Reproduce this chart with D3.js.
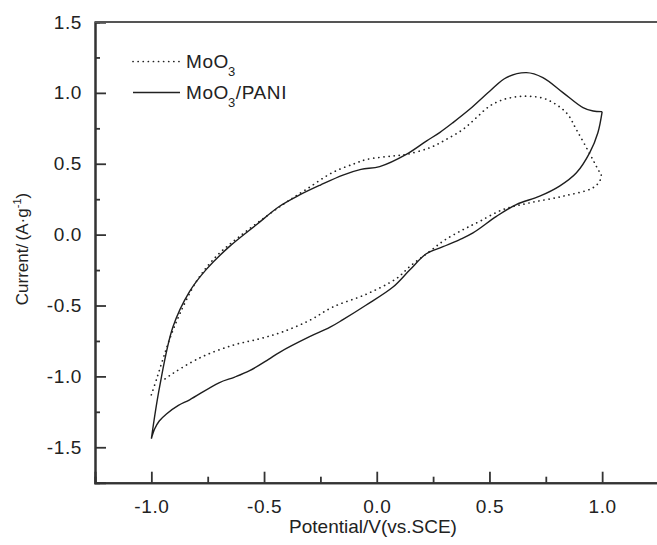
<!DOCTYPE html>
<html>
<head>
<meta charset="utf-8">
<script src="https://cdn.jsdelivr.net/npm/d3@7"></script>
<style>
  html, body { margin: 0; padding: 0; background: #fff; }
  svg { display: block; }
  text { font-family: "Liberation Sans", Arial, Helvetica, sans-serif; fill: #222; }
</style>
</head>
<body>
<svg id="chart" width="657" height="545"></svg>
<script>
// ---- Data ----
const xTicks = [-1.0, -0.5, 0.0, 0.5, 1.0];
const xMinorTicks = [-0.75, -0.25, 0.25, 0.75];
const yTicks = [1.5, 1.0, 0.5, 0.0, -0.5, -1.0, -1.5];
const yMinorTicks = [1.25, 0.75, 0.25, -0.25, -0.75, -1.25];

// MoO3/PANI (solid): anodic (upper) and cathodic (lower) branches
const paniUpperX = [-1.000, -0.963, -0.904, -0.830, -0.756, -0.653, -0.534, -0.431, -0.342, -0.250, -0.150, -0.070, 0.013, 0.131, 0.220, 0.279, 0.338, 0.412, 0.501, 0.575, 0.664, 0.737, 0.826, 0.915, 0.960, 1.000];
const paniUpperY = [-1.44, -1.07, -0.65, -0.40, -0.245, -0.083, 0.07, 0.20, 0.28, 0.35, 0.42, 0.46, 0.48, 0.566, 0.66, 0.72, 0.79, 0.884, 1.012, 1.108, 1.143, 1.108, 1.002, 0.896, 0.872, 0.868];
const paniLowerX = [1.000, 0.981, 0.945, 0.886, 0.811, 0.723, 0.619, 0.531, 0.427, 0.368, 0.294, 0.220, 0.146, 0.072, -0.050, -0.150, -0.209, -0.298, -0.431, -0.480, -0.564, -0.630, -0.700, -0.830, -0.880, -0.933, -0.965, -0.985, -1.000];
const paniLowerY = [0.868, 0.719, 0.578, 0.436, 0.342, 0.271, 0.212, 0.129, 0.012, -0.035, -0.085, -0.135, -0.25, -0.37, -0.50, -0.60, -0.655, -0.72, -0.83, -0.88, -0.96, -1.005, -1.045, -1.165, -1.205, -1.265, -1.315, -1.37, -1.44];

// MoO3 (dotted)
const mooUpperX = [-1.000, -0.975, -0.945, -0.915, -0.874, -0.800, -0.712, -0.608, -0.490, -0.400, -0.312, -0.194, -0.100, -0.046, 0.072, 0.131, 0.235, 0.309, 0.383, 0.442, 0.501, 0.560, 0.619, 0.678, 0.752, 0.841, 0.886, 0.945, 0.975, 0.996];
const mooUpperY = [-1.13, -1.01, -0.86, -0.72, -0.56, -0.33, -0.153, -0.012, 0.129, 0.23, 0.32, 0.44, 0.50, 0.53, 0.555, 0.566, 0.613, 0.672, 0.743, 0.825, 0.907, 0.952, 0.972, 0.976, 0.955, 0.86, 0.74, 0.57, 0.48, 0.42];
const mooLowerX = [0.996, 0.990, 0.959, 0.826, 0.678, 0.560, 0.457, 0.383, 0.300, 0.235, 0.150, 0.087, -0.046, -0.194, -0.298, -0.416, -0.520, -0.638, -0.786, -0.933, -0.955];
const mooLowerY = [0.42, 0.38, 0.33, 0.271, 0.224, 0.177, 0.094, 0.035, -0.04, -0.118, -0.22, -0.31, -0.42, -0.51, -0.605, -0.685, -0.735, -0.78, -0.87, -1.01, -1.04];

const legendLabels = ["MoO", "MoO"];
const legendSubs = ["3", "3"];
const legendSuffix = ["", "/PANI"];

// ---- Layout ----
const svg = d3.select("#chart");
const mLeft = 95, mTop = 22, mBottom = 482.7, mRight = 658.5;

const x = d3.scaleLinear().domain([-1.25, 1.25]).range([mLeft, mRight]);
const y = d3.scaleLinear().domain([-1.75, 1.5]).range([mBottom, mTop]);

const frame = "#333";
const fmt = d => d.toFixed(1);

// Axes with inward ticks
const yAxis = d3.axisLeft(y).tickValues(yTicks).tickSize(-11).tickPadding(13).tickFormat(fmt);
const yMinor = d3.axisLeft(y).tickValues(yMinorTicks).tickSize(-5).tickFormat("");
const xAxis = d3.axisBottom(x).tickValues(xTicks).tickSize(-11).tickPadding(17).tickFormat(fmt);
const xMinor = d3.axisBottom(x).tickValues(xMinorTicks).tickSize(-6).tickFormat("");

function styleAxis(g) {
  g.select(".domain").attr("stroke", frame).attr("stroke-width", 2);
  g.selectAll(".tick line").attr("stroke", frame).attr("stroke-width", 1.8);
  g.selectAll(".tick text")
    .style("font-family", '"Liberation Sans", Arial, sans-serif')
    .style("font-size", "19px").attr("fill", "#222").attr("letter-spacing", "0.6px");
}

svg.append("g").attr("transform", `translate(${mLeft},0)`).call(yAxis).call(styleAxis);
svg.append("g").attr("transform", `translate(${mLeft},0)`).call(yMinor).call(styleAxis);
svg.append("g").attr("transform", `translate(0,${mBottom})`).call(xAxis).call(styleAxis);
svg.append("g").attr("transform", `translate(0,${mBottom})`).call(xMinor).call(styleAxis);

// top spine
svg.append("line").attr("x1", mLeft).attr("x2", mRight).attr("y1", mTop).attr("y2", mTop)
  .attr("stroke", "#555").attr("stroke-width", 2);

// ---- Curves ----
const line = d3.line().x(d => x(d[0])).y(d => y(d[1])).curve(d3.curveCatmullRom.alpha(0.5));
const zip = (a, b) => a.map((v, i) => [v, b[i]]);

svg.append("path")
  .attr("d", line(zip(paniUpperX, paniUpperY)) + line(zip(paniLowerX, paniLowerY)))
  .attr("fill", "none").attr("stroke", "#1e1e1e").attr("stroke-width", 1.4)
  .attr("stroke-linejoin", "round");

[[mooUpperX, mooUpperY], [mooLowerX, mooLowerY]].forEach(([xs, ys]) => {
  svg.append("path")
    .attr("d", line(zip(xs, ys)))
    .attr("fill", "none").attr("stroke", "#222").attr("stroke-width", 1.7)
    .attr("stroke-dasharray", "0.1,5").attr("stroke-linecap", "round");
});

// ---- Legend ----
const legY = [61.5, 92.5];
const legStyles = [{dash: "0.1,5", w: 1.7, cap: "round"}, {dash: null, w: 1.4, cap: "butt"}];
legY.forEach((ly, i) => {
  const l = svg.append("line").attr("x1", 133).attr("x2", 180).attr("y1", ly).attr("y2", ly)
    .attr("stroke", "#222").attr("stroke-width", legStyles[i].w).attr("stroke-linecap", legStyles[i].cap);
  if (legStyles[i].dash) l.attr("stroke-dasharray", legStyles[i].dash);
  const t = svg.append("text").attr("x", 186).attr("y", ly + 6.8)
    .style("font-size", "19px").attr("letter-spacing", "0.6px");
  t.append("tspan").text(legendLabels[i]);
  t.append("tspan").attr("dy", 8).attr("dx", -1).style("font-size", "13px").text(legendSubs[i]);
  if (legendSuffix[i]) t.append("tspan").attr("dy", -8).text(legendSuffix[i]);
});

// ---- Axis titles ----
svg.append("text").attr("x", 373).attr("y", 533).attr("text-anchor", "middle")
  .style("font-size", "19px").text("Potential/V(vs.SCE)");

const yl = svg.append("text").attr("transform", "translate(28,249) rotate(-90)")
  .attr("text-anchor", "middle").style("font-size", "17px");
yl.append("tspan").text("Current/\u2009(A\u00B7g");
yl.append("tspan").attr("dy", -7).style("font-size", "11px").text("-1");
yl.append("tspan").attr("dy", 7).text(")");
</script>
</body>
</html>
